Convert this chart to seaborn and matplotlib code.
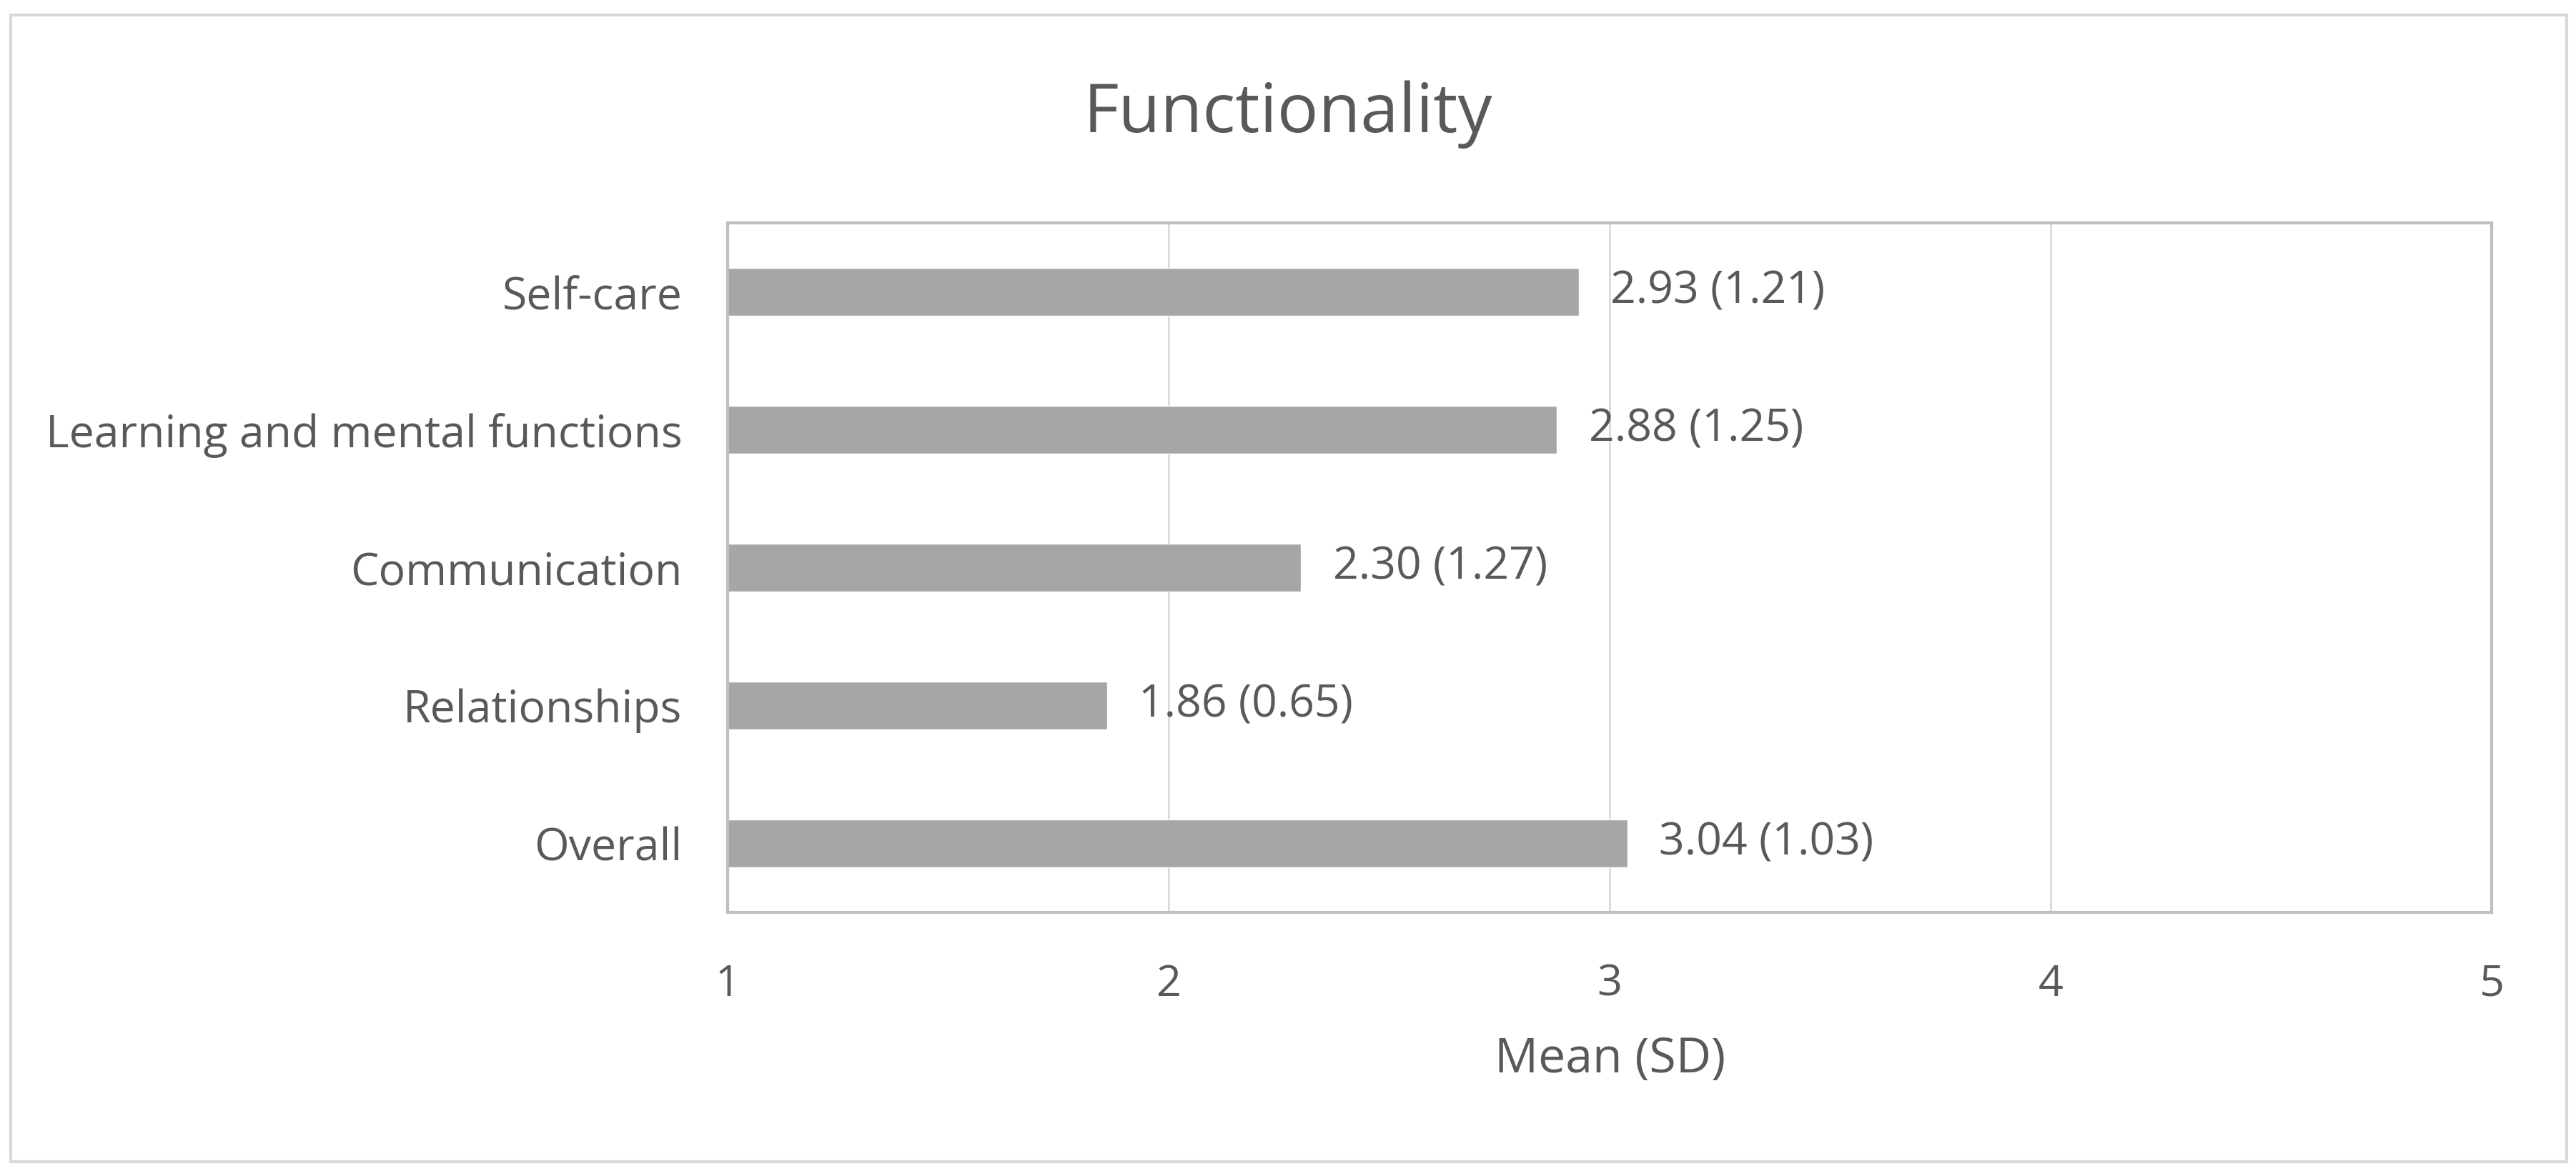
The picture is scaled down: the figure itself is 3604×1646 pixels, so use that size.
import matplotlib
matplotlib.use("Agg")
import matplotlib.pyplot as plt
import seaborn as sns
import pandas as pd
from matplotlib.patches import Rectangle

# Data
categories = ['Self-care', 'Learning and mental functions', 'Communication',
              'Relationships', 'Overall']
means = [2.93, 2.88, 2.30, 1.86, 3.04]
sds = [1.21, 1.25, 1.27, 0.65, 1.03]
x_ticks = [1, 2, 3, 4, 5]

df = pd.DataFrame({'category': categories, 'mean': means, 'sd': sds})

sns.set_theme(style='white')
plt.rcParams['font.family'] = ['Open Sans', 'DejaVu Sans']
text_color = '#595959'

fig = plt.figure(figsize=(36.04, 16.46), dpi=100)
ax = fig.add_axes([0.2825, 0.2242, 0.6848, 0.5862])

sns.barplot(data=df, y='category', x='mean', orient='h', color='#a6a6a6',
            width=0.35, saturation=1, ax=ax)

# value labels: "mean (sd)"
labels = [f'{m:.2f} ({s:.2f})' for m, s in zip(means, sds)]
ax.bar_label(ax.containers[0], labels=labels, padding=32, fontsize=45, color=text_color)

ax.set_xlim(1, 5)
ax.set_xticks(x_ticks)
ax.set_xticklabels([str(t) for t in x_ticks])
ax.grid(axis='x', color='#d9d9d9', linewidth=2)
ax.set_axisbelow(True)
for side in ['left', 'bottom', 'top', 'right']:
    ax.spines[side].set_color('#bfbfbf')
    ax.spines[side].set_linewidth(3)

ax.tick_params(axis='x', length=0, pad=51, labelsize=44, labelcolor=text_color)
ax.tick_params(axis='y', length=0, pad=46, labelsize=45, labelcolor=text_color)

ax.set_ylabel('')
ax.set_xlabel('Mean (SD)', fontsize=49, color=text_color, labelpad=30)
fig.text(0.5, 0.8875, 'Functionality', ha='center', va='baseline', fontsize=69, color=text_color)

# chart border
fig.patches.append(Rectangle((0.0042, 0.0122), 0.9922, 0.975, transform=fig.transFigure,
                             fill=False, edgecolor='#d9d9d9', linewidth=3))

fig.savefig('out.png', dpi=100, facecolor='white')
